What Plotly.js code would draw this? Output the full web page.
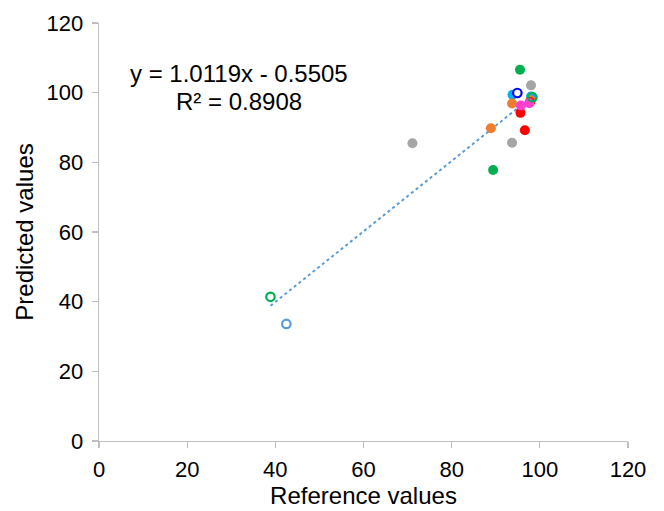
<!DOCTYPE html>
<html>
<head>
<meta charset="utf-8">
<script src="https://cdn.plot.ly/plotly-3.0.1.min.js"></script>
<style>html,body{margin:0;padding:0;background:#fff;}#chart{width:664px;height:511px;}</style>
</head>
<body>
<div id="chart"></div>
<script>
// Data
var greenX = [95.5, 89.4, 98.3];
var greenY = [106.6, 77.8, 98.6];
var grayX = [98.0, 93.7, 71.1, 98.1];
var grayY = [102.1, 85.6, 85.5, 98.2];
var orangeX = [88.9, 93.7, 97.9];
var orangeY = [89.8, 96.9, 97.8];
var redX = [95.6, 96.6, 97.8];
var redY = [94.2, 89.2, 97.3];
var pinkX = [95.7, 97.6];
var pinkY = [96.3, 97.0];
var cyanX = [93.8, 98.0];
var cyanY = [99.4, 98.9];
var blueRingX = [94.9];
var blueRingY = [99.9];
var greenRingX = [38.9, 98.3];
var greenRingY = [41.4, 98.7];
var lightBlueRingX = [42.5];
var lightBlueRingY = [33.6];

var slope = 1.0119, intercept = -0.5505, r2 = 0.8908;
var trendX = [38.9, 98.3];
var trendY = trendX.map(function(x){ return slope * x + intercept; });

var xTicks = [0, 20, 40, 60, 80, 100, 120];
var yTicks = [0, 20, 40, 60, 80, 100, 120];

function filled(x, y, c) {
  return {x: x, y: y, type: 'scatter', mode: 'markers',
    marker: {size: 10, color: c, line: {width: 0}}, hoverinfo: 'x+y'};
}
function ring(x, y, c, fill) {
  return {x: x, y: y, type: 'scatter', mode: 'markers',
    marker: {size: 8.5, color: fill, line: {width: 2.2, color: c}}, hoverinfo: 'x+y'};
}

var data = [
  {x: trendX, y: trendY, type: 'scatter', mode: 'lines',
   line: {color: '#5B9BD5', width: 2, dash: 'dot'}, hoverinfo: 'skip'},
  ring(lightBlueRingX, lightBlueRingY, '#5B9BD5', '#ffffff'),
  filled(grayX, grayY, '#A5A5A5'),
  filled(greenX, greenY, '#00B050'),
  filled(cyanX, cyanY, '#00B0F0'),
  filled(orangeX, orangeY, '#ED7D31'),
  filled(redX, redY, '#FF0000'),
  filled(pinkX, pinkY, '#FF3FCF'),
  ring(greenRingX, greenRingY, '#00B050', 'rgba(255,255,255,0)'),
  ring(blueRingX, blueRingY, '#0000FF', '#ffffff')
];

var fontFam = '"Liberation Sans", Arial, sans-serif';
var tickFs = 22, titleFs = 24;
var layout = {
  width: 664, height: 511,
  margin: {l: 99, r: 36, t: 23, b: 70},
  paper_bgcolor: '#ffffff', plot_bgcolor: '#ffffff',
  showlegend: false,
  font: {family: fontFam, size: tickFs, color: '#000000'},
  xaxis: {
    range: [0, 120], tickvals: xTicks, ticktext: xTicks.map(String),
    showgrid: false, zeroline: false, automargin: false,
    showline: true, linecolor: '#BFBFBF', linewidth: 1.3,
    ticks: 'outside', ticklen: 6, tickcolor: '#BFBFBF', tickwidth: 1.3,
    ticklabelstandoff: 2,
    tickfont: {family: fontFam, size: tickFs, color: '#000'},
    title: {text: 'Reference values', font: {family: fontFam, size: titleFs, color: '#000'}, standoff: 4}
  },
  yaxis: {
    range: [0, 120], tickvals: yTicks, ticktext: yTicks.map(String),
    showgrid: false, zeroline: false, automargin: false,
    showline: true, linecolor: '#BFBFBF', linewidth: 1.3,
    ticks: 'outside', ticklen: 6, tickcolor: '#BFBFBF', tickwidth: 1.3,
    ticklabelstandoff: 4,
    tickfont: {family: fontFam, size: tickFs, color: '#000'},
    title: {text: 'Predicted values', font: {family: fontFam, size: titleFs, color: '#000'}, standoff: 6}
  },
  annotations: [
    {xref: 'paper', yref: 'paper', x: 0.2647, y: 0.878, xanchor: 'center', yanchor: 'middle',
     text: 'y = ' + slope.toFixed(4) + 'x - ' + Math.abs(intercept).toFixed(4),
     showarrow: false, font: {family: fontFam, size: titleFs, color: '#000'}},
    {xref: 'paper', yref: 'paper', x: 0.2647, y: 0.813, xanchor: 'center', yanchor: 'middle',
     text: 'R² = ' + r2.toFixed(4),
     showarrow: false, font: {family: fontFam, size: titleFs, color: '#000'}}
  ]
};

Plotly.newPlot('chart', data, layout, {displayModeBar: false, staticPlot: true});
</script>
</body>
</html>
